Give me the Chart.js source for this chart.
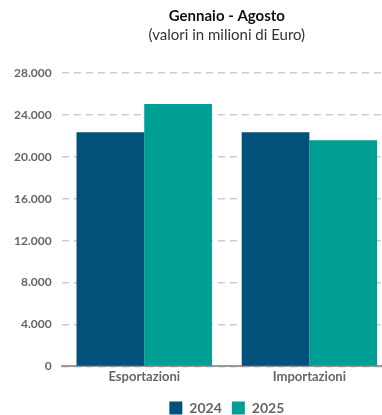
<!DOCTYPE html>
<html>
<head>
<meta charset="utf-8">
<script src="https://cdn.jsdelivr.net/npm/chart.js@4"></script>
<style>
  html, body { margin: 0; padding: 0; background: #fff; overflow: hidden; }
  #wrap { width: 392px; height: 415px; }
</style>
</head>
<body>
<div id="wrap"><canvas id="chart"></canvas></div>
<script>
// dati
const categories = ['Esportazioni', 'Importazioni'];
const seriesNames = ['2024', '2025'];
const values2024 = [22350, 22350];
const values2025 = [25030, 21580];
const colors = ['#01517a', '#009f95'];

const fmt = v => v.toLocaleString('it-IT').replace(/,/g, '.');
const font = 'Lato, "Open Sans", sans-serif';

new Chart(document.getElementById('chart'), {
  type: 'bar',
  data: {
    labels: categories,
    datasets: [
      { label: seriesNames[0], data: values2024, backgroundColor: colors[0] },
      { label: seriesNames[1], data: values2025, backgroundColor: colors[1] }
    ]
  },
  options: {
    responsive: true,
    maintainAspectRatio: false,
    animation: false,
    layout: { padding: { top: 3, left: 4, right: 0, bottom: -10 } },
    datasets: { bar: { barPercentage: 1, categoryPercentage: 0.82 } },
    plugins: {
      title: {
        display: true,
        fullSize: false,
        text: 'Gennaio - Agosto',
        color: '#111',
        font: { family: font, size: 15, weight: 'bold' },
        padding: { top: 4, bottom: 1 }
      },
      subtitle: {
        display: true,
        fullSize: false,
        text: '(valori in milioni di Euro)',
        color: '#333',
        font: { family: font, size: 15 },
        padding: { bottom: 29 }
      },
      legend: {
        position: 'bottom',
        fullSize: false,
        labels: {
          color: '#666',
          boxWidth: 13,
          boxHeight: 13,
          padding: 10,
          font: { family: font, size: 14, weight: 'bold' }
        }
      },
      tooltip: { enabled: false }
    },
    scales: {
      x: {
        grid: { display: false, drawTicks: false },
        border: { color: '#999', width: 2 },
        ticks: { color: '#666', padding: 3, font: { family: font, size: 13, weight: 'bold' } },
        afterFit: s => { s.height += 3; }
      },
      y: {
        min: 0,
        max: 28000,
        ticks: {
          stepSize: 4000,
          color: '#666',
          padding: 10,
          font: { family: font, size: 12, weight: 'bold' },
          callback: v => fmt(v)
        },
        grid: { color: '#ccc', lineWidth: 1.5, drawTicks: false },
        border: { display: false, dash: [7, 5] }
      }
    }
  }
});
</script>
</body>
</html>
